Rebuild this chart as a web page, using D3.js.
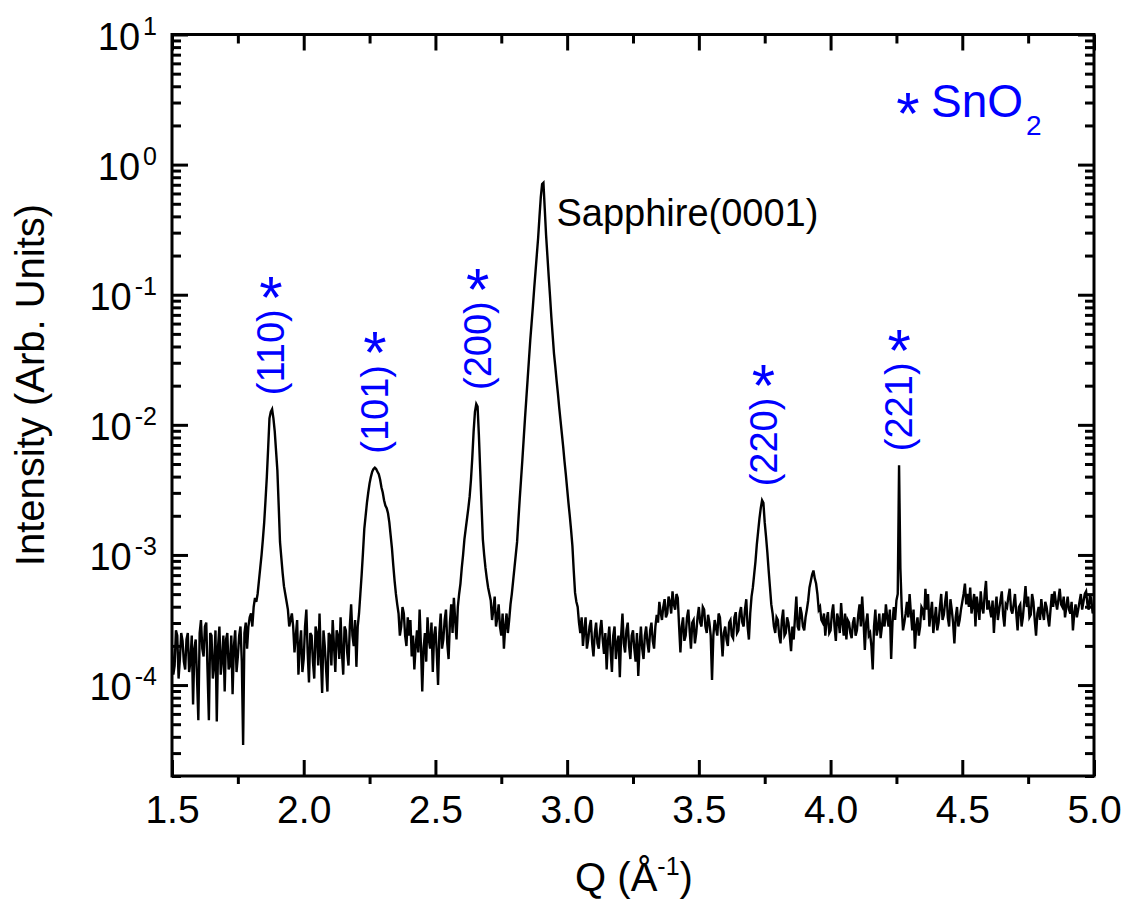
<!DOCTYPE html>
<html>
<head>
<meta charset="utf-8">
<script src="https://cdn.jsdelivr.net/npm/d3@7"></script>
<style>
  body { margin: 0; background: #fff; }
  text { font-family: "Liberation Sans", Arial, sans-serif; }
</style>
</head>
<body>
<div id="chart"></div>
<script>
// scan grid: Q (1/Angstrom) starts at qStart and goes up by qStep
const qStart = 1.5;
const qStep = 0.01;

// log10(intensity), one value per Q step (1.50 ... 5.00)
const logIntensity = [
  -3.70, -3.85, -3.62, -3.80, -3.66, -3.88, -3.60, -3.82, -4.15, -3.65, // 1.50
  -4.27, -3.50, -3.78, -3.52, -4.27, -3.62, -3.85, -4.28, -3.55, -3.80, // 1.60
  -4.05, -3.60, -3.85, -4.07, -3.58, -3.78, -3.55, -4.46, -3.52, -3.55, // 1.70
  -3.45, -3.40, -3.36, -3.20, -3.00, -2.75, -2.40, -1.95, -1.88, -2.05, // 1.80
  -2.35, -2.90, -3.14, -3.30, -3.42, -3.50, -3.55, -3.62, -3.92, -3.58, // 1.90
  -3.80, -3.42, -3.98, -3.62, -3.95, -3.60, -3.45, -4.06, -3.70, -4.05, // 2.00
  -3.62, -3.50, -3.90, -3.62, -3.48, -3.92, -3.58, -3.85, -3.38, -3.70, // 2.10
  -3.86, -3.45, -3.15, -2.80, -2.60, -2.45, -2.36, -2.33, -2.36, -2.42, // 2.20
  -2.52, -2.62, -2.68, -2.85, -3.08, -3.30, -3.45, -3.55, -3.45, -3.70, // 2.30
  -3.62, -3.78, -3.88, -3.58, -3.42, -4.05, -3.60, -3.48, -3.72, -3.90, // 2.40
  -3.55, -4.00, -3.45, -3.65, -3.42, -3.80, -3.38, -3.33, -3.65, -3.30, // 2.50
  -3.10, -2.88, -2.72, -2.55, -2.25, -1.90, -1.86, -2.35, -2.88, -3.10, // 2.60
  -3.25, -3.35, -3.42, -3.55, -3.38, -3.62, -3.72, -3.45, -3.50, -3.30, // 2.70
  -3.10, -2.90, -2.57, -2.27, -1.95, -1.65, -1.35, -1.09, -0.82, -0.56, // 2.80
  -0.25, -0.14, -0.54, -0.86, -1.17, -1.45, -1.66, -1.87, -2.07, -2.28, // 2.90
  -2.49, -2.70, -2.93, -3.29, -3.40, -3.60, -3.70, -3.48, -3.65, -3.50, // 3.00
  -3.78, -3.52, -3.72, -3.50, -3.76, -3.88, -3.55, -3.90, -3.55, -3.68, // 3.10
  -3.94, -3.45, -3.75, -3.52, -3.80, -3.58, -3.82, -3.93, -3.55, -3.80, // 3.20
  -3.55, -3.75, -3.52, -3.72, -3.46, -3.36, -3.50, -3.34, -3.45, -3.36, // 3.30
  -3.28, -3.42, -3.33, -3.75, -3.48, -3.62, -3.42, -3.72, -3.50, -3.60, // 3.40
  -3.40, -3.55, -3.42, -3.60, -3.52, -3.96, -3.50, -3.62, -3.48, -3.78, // 3.50
  -3.55, -3.70, -3.50, -3.64, -3.44, -3.58, -3.40, -3.55, -3.34, -3.65, // 3.60
  -3.32, -3.15, -2.92, -2.72, -2.58, -2.75, -2.98, -3.25, -3.45, -3.60, // 3.70
  -3.50, -3.68, -3.42, -3.60, -3.52, -3.74, -3.65, -3.32, -3.58, -3.45, // 3.80
  -3.58, -3.42, -3.25, -3.15, -3.18, -3.30, -3.40, -3.52, -3.62, -3.44, // 3.90
  -3.58, -3.38, -3.66, -3.50, -3.37, -3.62, -3.65, -3.52, -3.64, -3.48, // 4.00
  -3.58, -3.38, -3.32, -3.73, -3.45, -3.60, -3.88, -3.42, -3.56, -3.64, // 4.10
  -3.45, -3.38, -3.55, -3.80, -3.40, -3.35, -2.31, -3.40, -3.52, -3.36, // 4.20
  -3.30, -3.58, -3.72, -3.48, -3.55, -3.42, -3.26, -3.30, -3.45, -3.60, // 4.30
  -3.40, -3.52, -3.30, -3.46, -3.28, -3.55, -3.42, -3.68, -3.40, -3.50, // 4.40
  -3.36, -3.22, -3.30, -3.25, -3.38, -3.55, -3.40, -3.28, -3.45, -3.20, // 4.50
  -3.35, -3.48, -3.60, -3.32, -3.42, -3.28, -3.55, -3.40, -3.26, -3.45, // 4.60
  -3.30, -3.58, -3.38, -3.48, -3.24, -3.32, -3.46, -3.36, -3.62, -3.40, // 4.70
  -3.34, -3.50, -3.40, -3.55, -3.30, -3.28, -3.42, -3.26, -3.40, -3.48, // 4.80
  -3.32, -3.45, -3.58, -3.38, -3.42, -3.30, -3.36, -3.28, -3.42, -3.35, // 4.90
  -3.40                                                                 // 5.00
];

// log10(intensity) at the half steps in between (1.505 ... 4.995)
const logIntensityHalf = [
  -3.92, -3.58, -3.95, -3.60, -3.82, -3.65, -3.90, -3.62, -3.72, -3.95, // 1.505
  -3.60, -3.72, -3.55, -3.90, -3.60, -3.95, -3.58, -3.70, -3.92, -3.62, // 1.605
  -3.65, -3.88, -3.62, -3.70, -3.90, -3.62, -3.82, -3.60, -3.72, -3.48, // 1.705
  -3.55, -3.33, -3.30, -3.10, -2.88, -2.58, -2.18, -1.90, -1.95, -2.20, // 1.805
  -2.62, -3.02, -3.24, -3.36, -3.55, -3.45, -3.75, -3.50, -3.70, -3.90, // 1.905
  -3.55, -3.75, -3.60, -3.82, -3.55, -3.85, -3.78, -3.58, -3.88, -3.60, // 2.005
  -3.85, -3.70, -3.58, -3.80, -3.75, -3.55, -3.75, -3.55, -3.62, -3.50, // 2.105
  -3.55, -3.30, -2.98, -2.70, -2.52, -2.40, -2.34, -2.34, -2.38, -2.48, // 2.205
  -2.58, -2.64, -2.75, -2.95, -3.20, -3.38, -3.62, -3.40, -3.62, -3.48, // 2.305
  -3.50, -3.62, -3.70, -3.75, -3.70, -3.72, -3.82, -3.65, -3.52, -3.62, // 2.405
  -3.75, -3.60, -3.72, -3.50, -3.68, -3.52, -3.60, -3.50, -3.40, -3.22, // 2.505
  -3.00, -2.80, -2.64, -2.42, -2.05, -1.84, -2.08, -2.62, -3.00, -3.18, // 2.605
  -3.30, -3.50, -3.32, -3.48, -3.55, -3.45, -3.55, -3.60, -3.38, -3.20, // 2.705
  -3.00, -2.73, -2.42, -2.11, -1.80, -1.50, -1.22, -0.95, -0.69, -0.40, // 2.805
  -0.15, -0.34, -0.70, -1.01, -1.31, -1.55, -1.76, -1.97, -2.17, -2.38, // 2.905
  -2.60, -2.81, -3.12, -3.36, -3.52, -3.48, -3.58, -3.72, -3.55, -3.68, // 3.005
  -3.60, -3.68, -3.58, -3.65, -3.60, -3.66, -3.74, -3.62, -3.80, -3.62, // 3.105
  -3.62, -3.68, -3.58, -3.70, -3.62, -3.72, -3.60, -3.70, -3.72, -3.62, // 3.205
  -3.68, -3.58, -3.66, -3.55, -3.52, -3.44, -3.40, -3.48, -3.32, -3.45, // 3.305
  -3.38, -3.30, -3.55, -3.55, -3.66, -3.48, -3.58, -3.52, -3.68, -3.48, // 3.405
  -3.52, -3.40, -3.55, -3.46, -3.62, -3.62, -3.56, -3.45, -3.62, -3.60, // 3.505
  -3.65, -3.52, -3.62, -3.48, -3.60, -3.45, -3.52, -3.42, -3.55, -3.45, // 3.605
  -3.25, -3.05, -2.82, -2.64, -2.60, -2.86, -3.12, -3.38, -3.55, -3.48, // 3.705
  -3.62, -3.50, -3.62, -3.48, -3.62, -3.55, -3.48, -3.55, -3.40, -3.55, // 3.805
  -3.48, -3.35, -3.20, -3.12, -3.22, -3.42, -3.50, -3.45, -3.50, -3.60, // 3.905
  -3.45, -3.55, -3.45, -3.60, -3.52, -3.45, -3.50, -3.60, -3.52, -3.62, // 4.005
  -3.46, -3.55, -3.50, -3.52, -3.62, -3.70, -3.55, -3.62, -3.45, -3.55, // 4.105
  -3.55, -3.48, -3.42, -3.52, -3.50, -3.30, -3.10, -3.58, -3.45, -3.48, // 4.205
  -3.45, -3.42, -3.55, -3.62, -3.40, -3.50, -3.42, -3.55, -3.36, -3.50, // 4.305
  -3.58, -3.40, -3.50, -3.36, -3.48, -3.34, -3.52, -3.48, -3.55, -3.42, // 4.405
  -3.30, -3.38, -3.40, -3.45, -3.30, -3.32, -3.50, -3.40, -3.30, -3.42, // 4.505
  -3.42, -3.35, -3.42, -3.50, -3.35, -3.46, -3.38, -3.32, -3.42, -3.38, // 4.605
  -3.45, -3.40, -3.55, -3.36, -3.40, -3.48, -3.30, -3.50, -3.45, -3.50, // 4.705
  -3.44, -3.36, -3.48, -3.42, -3.40, -3.36, -3.34, -3.38, -3.32, -3.40, // 4.805
  -3.42, -3.36, -3.45, -3.48, -3.36, -3.42, -3.30, -3.38, -3.30, -3.45  // 4.905
];

// SnO2 reflections marked with a star
const peakHkl = ["(110)", "(101)", "(200)", "(220)", "(221)"];
const peakQ = [1.876, 2.27, 2.66, 3.745, 4.26];

const substrateText = "Sapphire(0001)";
const substrateQ = 2.91;

const xMajorTicks = [1.5, 2.0, 2.5, 3.0, 3.5, 4.0, 4.5, 5.0];
const xMinorTicks = [1.75, 2.25, 2.75, 3.25, 3.75, 4.25, 4.75];
const yExponents = [-4, -3, -2, -1, 0, 1];

const width = 1123;
const height = 909;
const plotLeft = 172, plotRight = 1094, plotTop = 34.5, plotBottom = 776;

const blue = "#0000ff";
const axisFont = 39;
const starFont = 60;

const svg = d3.select("#chart")
    .append("svg")
    .attr("width", width)
    .attr("height", height);

const x = d3.scaleLinear().domain([1.5, 5.0]).range([plotLeft, plotRight]);
const y = d3.scaleLog().domain([2e-5, 10]).range([plotBottom, plotTop]);

const data = logIntensity.map(function(v, i) {
        return { q: +(qStart + i * qStep).toFixed(3), I: Math.pow(10, v) };
    })
    .concat(logIntensityHalf.map(function(v, i) {
        return { q: +(qStart + (i + 0.5) * qStep).toFixed(3), I: Math.pow(10, v) };
    }))
    .sort((a, b) => a.q - b.q);

// minor log ticks come from the scale itself
const yAll = y.ticks();
const yMajor = yExponents.map(e => Math.pow(10, e));
const yMinor = yAll.filter(function(t) {
    const m = Math.log10(t);
    return Math.abs(m - Math.round(m)) > 1e-6;
});

svg.append("clipPath")
    .attr("id", "plot-clip")
    .append("rect")
    .attr("x", plotLeft)
    .attr("y", plotTop)
    .attr("width", plotRight - plotLeft)
    .attr("height", plotBottom - plotTop);

// data trace
const line = d3.line()
    .x(d => x(d.q))
    .y(d => y(d.I));

svg.append("path")
    .datum(data)
    .attr("clip-path", "url(#plot-clip)")
    .attr("d", line)
    .attr("fill", "none")
    .attr("stroke", "#000")
    .attr("stroke-width", 2.4);

// axes: major ticks point inward, bottom minor ticks point outward
function styleAxis(g) {
    g.select(".domain").remove();
    g.selectAll(".tick line").attr("stroke", "#000").attr("stroke-width", 3);
    g.selectAll(".tick text")
        .attr("fill", "#000")
        .style("font-size", axisFont + "px")
        .style("font-family", '"Liberation Sans", Arial, sans-serif');
}

svg.append("g")
    .attr("transform", "translate(0," + plotBottom + ")")
    .call(d3.axisBottom(x).tickValues(xMajorTicks).tickSize(-16).tickSizeOuter(0)
        .tickPadding(19).tickFormat(d3.format(".1f")))
    .call(styleAxis);

svg.append("g")
    .attr("transform", "translate(0," + plotBottom + ")")
    .call(d3.axisBottom(x).tickValues(xMinorTicks).tickSize(8).tickSizeOuter(0).tickFormat(""))
    .call(styleAxis);

svg.append("g")
    .attr("transform", "translate(0," + plotTop + ")")
    .call(d3.axisTop(x).tickValues(xMajorTicks).tickSize(-16).tickSizeOuter(0).tickFormat(""))
    .call(styleAxis);

svg.append("g")
    .attr("transform", "translate(0," + plotTop + ")")
    .call(d3.axisTop(x).tickValues(xMinorTicks).tickSize(-9).tickSizeOuter(0).tickFormat(""))
    .call(styleAxis);

svg.append("g")
    .attr("transform", "translate(" + plotLeft + ",0)")
    .call(d3.axisLeft(y).tickValues(yMajor).tickSize(-16).tickSizeOuter(0).tickFormat(""))
    .call(styleAxis);

svg.append("g")
    .attr("transform", "translate(" + plotLeft + ",0)")
    .call(d3.axisLeft(y).tickValues(yMinor).tickSize(-9).tickSizeOuter(0).tickFormat(""))
    .call(styleAxis);

svg.append("g")
    .attr("transform", "translate(" + plotRight + ",0)")
    .call(d3.axisRight(y).tickValues(yMajor).tickSize(-16).tickSizeOuter(0).tickFormat(""))
    .call(styleAxis);

svg.append("g")
    .attr("transform", "translate(" + plotRight + ",0)")
    .call(d3.axisRight(y).tickValues(yMinor).tickSize(-9).tickSizeOuter(0).tickFormat(""))
    .call(styleAxis);

// frame
svg.append("rect")
    .attr("x", plotLeft)
    .attr("y", plotTop)
    .attr("width", plotRight - plotLeft)
    .attr("height", plotBottom - plotTop)
    .attr("fill", "none")
    .attr("stroke", "#000")
    .attr("stroke-width", 3);

// y tick labels as 10^n
const yLabels = svg.selectAll(".ylab")
    .data(yExponents)
    .enter()
    .append("text")
    .attr("class", "ylab")
    .attr("x", 157)
    .attr("y", d => y(Math.pow(10, d)) + 15)
    .attr("text-anchor", "end")
    .style("font-size", "38px");

yLabels.append("tspan").text("10");
yLabels.append("tspan")
    .attr("dx", 3)
    .attr("dy", -15)
    .style("font-size", "25px")
    .text(d => d);

// axis titles
svg.append("text")
    .attr("transform", "translate(44,385) rotate(-90)")
    .attr("text-anchor", "middle")
    .style("font-size", "40px")
    .text("Intensity (Arb. Units)");

const xTitle = svg.append("text")
    .attr("x", 634)
    .attr("y", 891)
    .attr("text-anchor", "middle")
    .style("font-size", "40px");
xTitle.append("tspan").text("Q (\u00C5");
xTitle.append("tspan").attr("dy", -16).style("font-size", "25px").text("-1");
xTitle.append("tspan").attr("dy", 16).text(")");

// peak height near a given Q, taken from the trace
function peakTop(q) {
    const near = data.filter(d => Math.abs(d.q - q) <= 0.02);
    return d3.max(near, d => d.I);
}

// star glyph drawn centred on (cx, cy)
function star(cx, cy) {
    svg.append("text")
        .attr("x", cx)
        .attr("y", cy + starFont * 0.54)
        .attr("text-anchor", "middle")
        .attr("fill", blue)
        .style("font-size", starFont + "px")
        .text("*");
}

// SnO2 peak labels: rotated (hkl) with a star above
peakHkl.forEach(function(hkl, i) {
    const px = x(peakQ[i]);
    const labelBottom = y(peakTop(peakQ[i])) - 14;

    const t = svg.append("text")
        .attr("transform", "translate(" + px + "," + labelBottom + ") rotate(-90)")
        .attr("dy", "0.35em")
        .attr("fill", blue)
        .style("font-size", "38px")
        .text(hkl);

    const len = t.node().getComputedTextLength();
    star(px, labelBottom - len - 24);
});

// substrate peak label
svg.append("text")
    .attr("x", x(substrateQ) + 13)
    .attr("y", y(peakTop(substrateQ)) + 43)
    .style("font-size", "38px")
    .attr("fill", "#000")
    .text(substrateText);

// legend
star(908, 102);

const legendText = svg.append("text")
    .attr("x", 931)
    .attr("y", 117)
    .attr("fill", blue)
    .style("font-size", "46px");
legendText.append("tspan").text("SnO");
legendText.append("tspan").attr("dx", 3).attr("dy", 18).style("font-size", "28px").text("2");
</script>
</body>
</html>
